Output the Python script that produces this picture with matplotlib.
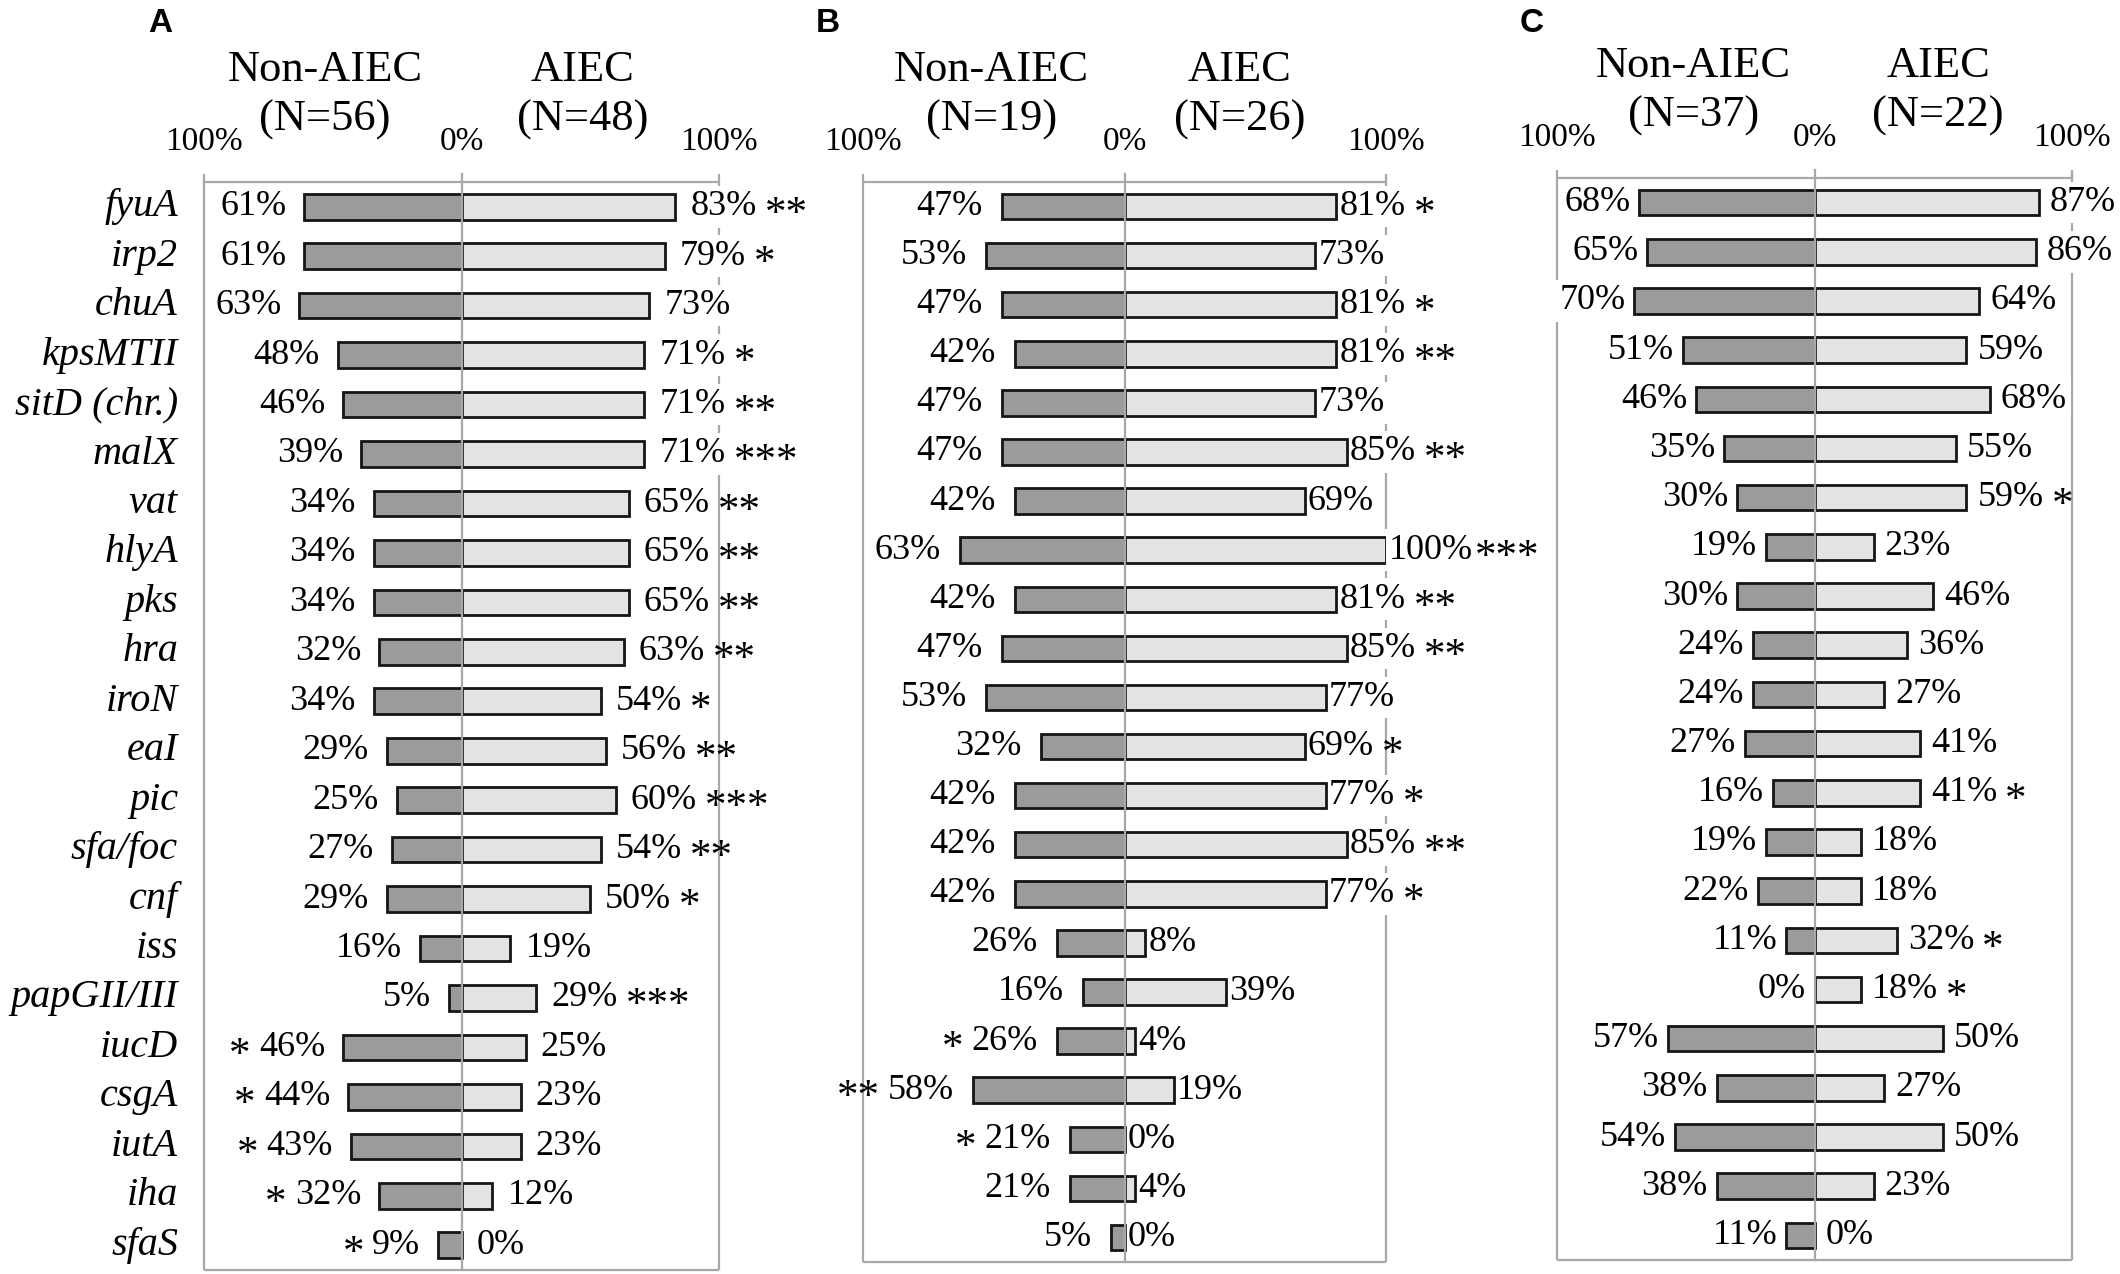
import matplotlib

matplotlib.use("Agg")

from matplotlib import pyplot as plt

GENES = [
    "fyuA", "irp2", "chuA", "kpsMTII", "sitD (chr.)", "malX", "vat", "hlyA",
    "pks", "hra", "iroN", "eaI", "pic", "sfa/foc", "cnf", "iss", "papGII/III",
    "iucD", "csgA", "iutA", "iha", "sfaS",
]

# panel A: Non-AIEC (N=56) vs AIEC (N=48)
A_NON = [61, 61, 63, 48, 46, 39, 34, 34, 34, 32, 34, 29, 25, 27, 29, 16, 5, 46, 44, 43, 32, 9]
A_AIEC = [83, 79, 73, 71, 71, 71, 65, 65, 65, 63, 54, 56, 60, 54, 50, 19, 29, 25, 23, 23, 12, 0]
A_NON_SIG = [""] * 17 + ["*", "*", "*", "*", "*"]
A_AIEC_SIG = ["**", "*", "", "*", "**", "***", "**", "**", "**", "**", "*", "**",
              "***", "**", "*", "", "***", "", "", "", "", ""]

# panel B: Non-AIEC (N=19) vs AIEC (N=26)
B_NON = [47, 53, 47, 42, 47, 47, 42, 63, 42, 47, 53, 32, 42, 42, 42, 26, 16, 26, 58, 21, 21, 5]
B_AIEC = [81, 73, 81, 81, 73, 85, 69, 100, 81, 85, 77, 69, 77, 85, 77, 8, 39, 4, 19, 0, 4, 0]
B_NON_SIG = [""] * 17 + ["*", "**", "*", "", ""]
B_AIEC_SIG = ["*", "", "*", "**", "", "**", "", "***", "**", "**", "", "*",
              "*", "**", "*", "", "", "", "", "", "", ""]

# panel C: Non-AIEC (N=37) vs AIEC (N=22)
C_NON = [68, 65, 70, 51, 46, 35, 30, 19, 30, 24, 24, 27, 16, 19, 22, 11, 0, 57, 38, 54, 38, 11]
C_AIEC = [87, 86, 64, 59, 68, 55, 59, 23, 46, 36, 27, 41, 41, 18, 18, 32, 18, 50, 27, 50, 23, 0]
C_NON_SIG = [""] * 22
C_AIEC_SIG = ["", "", "", "", "", "", "*", "", "", "", "", "", "*", "", "", "*", "*",
              "", "", "", "", ""]

W, H = 2120, 1274
SERIF = "Liberation Serif"
DARK = "#9b9b9b"
LIGHT = "#e3e3e3"
EDGE = "#151515"
FRAME = "#a8a8a8"
PX = 0.72  # points per pixel at dpi 100

WHITE_BOX = dict(boxstyle="square,pad=0.12", fc="white", ec="none")


def add_frame(ax, n):
    top, bottom = -0.5, n - 0.5
    kw = dict(color=FRAME, lw=1.6, clip_on=False, zorder=1, solid_capstyle="butt")
    ax.plot([-100, 100], [top, top], **kw)
    ax.plot([-100, 100], [bottom, bottom], **kw)
    ax.plot([-100, -100], [top - 0.17, bottom], **kw)
    ax.plot([100, 100], [top - 0.17, bottom], **kw)
    ax.plot([0, 0], [top - 0.17, bottom], color=FRAME, lw=1.6, clip_on=False, zorder=4)


def value_label(ax, x, y, value, sig, side, pad, gap=8):
    sign = -1 if side == "left" else 1
    txt = ax.annotate(
        f"{value}%", xy=(x, y), xytext=(sign * pad * PX, 0), textcoords="offset points",
        ha="right" if side == "left" else "left", va="center", fontsize=26,
        family=SERIF, bbox=WHITE_BOX, zorder=2,
    )
    if sig:
        ax.annotate(
            sig, xy=(0 if side == "left" else 1, 0.5), xycoords=txt,
            xytext=(sign * gap * PX, -8 * PX), textcoords="offset points",
            ha="right" if side == "left" else "left", va="center", fontsize=31,
            family=SERIF, zorder=2,
        )


def draw_panel(fig, rect, letter_xy, letter, n_non, n_aiec, non, aiec, non_sig, aiec_sig,
               pads, header_x, show_genes=False):
    left, top, right, bottom = rect
    ax = fig.add_axes([left / W, 1 - bottom / H, (right - left) / W, (bottom - top) / H])
    n = len(non)
    ax.set_xlim(-100, 100)
    ax.set_ylim(n - 0.5, -0.5)
    ax.axis("off")

    y = list(range(n))
    ax.barh(y, [-v for v in non], height=0.52, color=DARK, edgecolor=EDGE,
            linewidth=[2 if v > 0 else 0 for v in non], zorder=3)
    ax.barh(y, aiec, height=0.52, color=LIGHT, edgecolor=EDGE,
            linewidth=[2 if v > 0 else 0 for v in aiec], zorder=3)
    add_frame(ax, n)

    for i in range(n):
        value_label(ax, -non[i], i, non[i], non_sig[i], "left", pads[0])
        gap = 2 if aiec[i] >= 100 else 8
        value_label(ax, aiec[i], i, aiec[i], aiec_sig[i], "right", pads[1], gap)

    if show_genes:
        for i, gene in enumerate(GENES):
            ax.annotate(gene, xy=(-100, i), xytext=(-26 * PX, 0), textcoords="offset points",
                        ha="right", va="center", fontsize=29, family=SERIF, style="italic")

    for x, label in [(-100, "100%"), (0, "0%"), (100, "100%")]:
        ax.annotate(label, xy=(x, -0.5), xytext=(0, 40 * PX), textcoords="offset points",
                    ha="center", va="center", fontsize=24, family=SERIF)
    for x, name, count in [(header_x[0], "Non-AIEC", n_non), (header_x[1], "AIEC", n_aiec)]:
        ax.annotate(name, xy=(x, -0.5), xytext=(0, 112 * PX), textcoords="offset points",
                    ha="center", va="center", fontsize=32, family=SERIF)
        ax.annotate(f"(N={count})", xy=(x, -0.5), xytext=(0, 62 * PX), textcoords="offset points",
                    ha="center", va="center", fontsize=32, family=SERIF)

    fig.text(letter_xy[0] / W, 1 - letter_xy[1] / H, letter, ha="center", va="center",
             fontsize=24, fontweight="bold", family="Liberation Sans")


fig = plt.figure(figsize=(W / 100, H / 100), dpi=100)

draw_panel(fig, (204, 182, 719, 1270), (160, 24), "A", 56, 48,
           A_NON, A_AIEC, A_NON_SIG, A_AIEC_SIG, (18, 15), (-53, 47), show_genes=True)
draw_panel(fig, (863, 182, 1386, 1262), (828, 24), "B", 19, 26,
           B_NON, B_AIEC, B_NON_SIG, B_AIEC_SIG, (19, 3), (-51, 44))
draw_panel(fig, (1557, 178, 2072, 1260), (1532, 24), "C", 37, 22,
           C_NON, C_AIEC, C_NON_SIG, C_AIEC_SIG, (9, 11), (-47, 48))

fig.savefig("out.png", dpi=100, facecolor="white")
